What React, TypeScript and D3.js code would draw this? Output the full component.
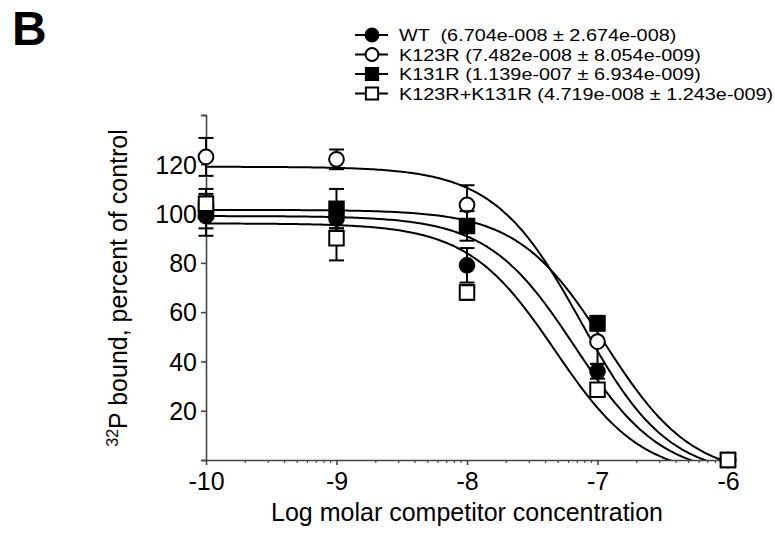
import React, { useEffect, useRef } from "react";
import * as d3 from "d3";

// log molar competitor concentration
const logDoses = [-10, -9, -8, -7, -6];

const seriesNames = ["WT", "K123R", "K131R", "K123R+K131R"];
const legendLabels = [
  "WT  (6.704e-008 ± 2.674e-008)",
  "K123R (7.482e-008 ± 8.054e-009)",
  "K131R (1.139e-007 ± 6.934e-009)",
  "K123R+K131R (4.719e-008 ± 1.243e-009)",
];

// percent of control, mean and error
const wtMean = [99, 98, 79, 36, 0];
const wtErr = [8, 4, 7, 3, 0];
const k123rMean = [123, 122, 103.5, 48, 0];
const k123rErr = [7.7, 4, 8, 9, 0];
const k131rMean = [101, 102, 95, 55.5, 0];
const k131rErr = [7, 8, 6, 3, 0];
const doubleMean = [104, 90, 68, 28.5, 0];
const doubleErr = [6, 9, 3, 2, 0];

// fitted one-site competition curves (IC50 from legend)
const ic50 = [6.704e-8, 7.482e-8, 1.139e-7, 4.719e-8];
const fitTop = [99, 119, 101.5, 96];
const fitBottom = [-7, -7, -7, -7];
const fitHill = [1.3, 1.3, 1.3, 1.3];

const markerShapes = ["circle", "circle", "square", "square"];
const markerFilled = [true, false, true, false];

const xTicks = [-10, -9, -8, -7, -6];
const yTicks = [0, 20, 40, 60, 80, 100, 120, 140];
const yTickLabels = ["", "20", "40", "60", "80", "100", "120", ""];

const FONT = "'Liberation Sans', Arial, Helvetica, sans-serif";
const AXIS_COLOR = "#444";

const App = () => {
  const svgRef = useRef(null);
  const width = 775;
  const height = 535;
  const margin = { top: 115, right: 47, bottom: 75, left: 206 };

  useEffect(() => {
    const svg = d3.select(svgRef.current).attr("width", width).attr("height", height);
    svg.selectAll("*").remove();

    const means = [wtMean, k123rMean, k131rMean, doubleMean];
    const errs = [wtErr, k123rErr, k131rErr, doubleErr];

    const x = d3.scaleLinear().domain([-10, -6]).range([margin.left, width - margin.right]);
    const y = d3.scaleLinear().domain([0, 140]).range([height - margin.bottom, margin.top]);

    svg
      .append("defs")
      .append("clipPath")
      .attr("id", "plotClip")
      .append("rect")
      .attr("x", margin.left)
      .attr("y", margin.top - 10)
      .attr("width", width - margin.left - margin.right + 10)
      .attr("height", y(0) - margin.top + 10);

    // panel letter
    svg
      .append("text")
      .attr("x", 12)
      .attr("y", 45)
      .attr("font-family", FONT)
      .attr("font-weight", "bold")
      .attr("font-size", 48)
      .text("B");

    // fitted curves
    const curveData = seriesNames.map((_, i) => {
      const logIc = Math.log10(ic50[i]);
      return d3.range(-10, -5.999, 0.02).map((lx) => ({
        lx,
        v: fitBottom[i] + (fitTop[i] - fitBottom[i]) / (1 + Math.pow(10, fitHill[i] * (lx - logIc))),
      }));
    });
    const line = d3
      .line<any>()
      .x((d) => x(d.lx))
      .y((d) => y(d.v))
      .curve(d3.curveMonotoneX);
    svg
      .append("g")
      .attr("clip-path", "url(#plotClip)")
      .selectAll("path")
      .data(curveData)
      .enter()
      .append("path")
      .attr("d", line)
      .attr("fill", "none")
      .attr("stroke", "#000")
      .attr("stroke-width", 2);

    // axes
    const yAxis = svg
      .append("g")
      .attr("transform", `translate(${margin.left},0)`)
      .call(d3.axisLeft(y).tickValues(yTicks).tickSize(5).tickFormat((d, i) => yTickLabels[i]));
    yAxis.select(".domain").attr("stroke", AXIS_COLOR).attr("stroke-width", 1.6);
    yAxis.selectAll(".tick line").attr("stroke", AXIS_COLOR).attr("stroke-width", 1.6);
    yAxis
      .selectAll(".tick text")
      .attr("font-family", FONT)
      .attr("font-size", 25)
      .attr("fill", "#000")
      .attr("x", -9)
      .attr("dy", "0.35em");

    const minorTicks: number[] = [];
    for (let dec = -10; dec < -6; dec++) {
      for (let k = 2; k <= 9; k++) minorTicks.push(dec + Math.log10(k));
    }
    const xAxis = svg
      .append("g")
      .attr("transform", `translate(0,${y(0)})`)
      .call(d3.axisBottom(x).tickValues(xTicks).tickSize(5).tickSizeOuter(0).tickFormat(d3.format("d")));
    xAxis.select(".domain").attr("stroke", AXIS_COLOR).attr("stroke-width", 1.6);
    xAxis.selectAll(".tick line").attr("stroke", AXIS_COLOR).attr("stroke-width", 1.6);
    xAxis
      .selectAll(".tick text")
      .attr("font-family", FONT)
      .attr("font-size", 25)
      .attr("fill", "#000")
      .attr("y", 12)
      .attr("dy", "0.71em")
      .text((d: any) => (d < 0 ? "-" + Math.abs(d) : String(d)));
    xAxis
      .selectAll(".minor")
      .data(minorTicks)
      .enter()
      .append("line")
      .attr("class", "minor")
      .attr("x1", (d) => x(d))
      .attr("x2", (d) => x(d))
      .attr("y1", 0)
      .attr("y2", 3)
      .attr("stroke", AXIS_COLOR)
      .attr("stroke-width", 1.2);

    // axis titles
    svg
      .append("text")
      .attr("x", (margin.left + width - margin.right) / 2)
      .attr("y", 521)
      .attr("text-anchor", "middle")
      .attr("font-family", FONT)
      .attr("font-size", 25)
      .text("Log molar competitor concentration");

    const yTitle = svg
      .append("text")
      .attr("transform", `translate(127,288) rotate(-90)`)
      .attr("text-anchor", "middle")
      .attr("font-family", FONT)
      .attr("font-size", 25);
    yTitle.append("tspan").attr("font-size", 16).attr("dy", -9).text("32");
    yTitle.append("tspan").attr("dy", 9).text("P bound, percent of control");

    const symbolPath = (shape: string, size: number) =>
      d3.symbol().type(shape === "circle" ? d3.symbolCircle : d3.symbolSquare).size(size)();

    // error bars and markers
    seriesNames.forEach((name, i) => {
      const g = svg.append("g").attr("class", "series-" + i);
      const pts = logDoses.map((lx, j) => ({ lx, v: means[i][j], e: errs[i][j] }));
      const eb = g
        .selectAll("g.eb")
        .data(pts.filter((p) => p.e > 0))
        .enter()
        .append("g")
        .attr("stroke", "#000")
        .attr("stroke-width", 2);
      eb.append("line")
        .attr("x1", (d) => x(d.lx))
        .attr("x2", (d) => x(d.lx))
        .attr("y1", (d) => y(d.v - d.e))
        .attr("y2", (d) => y(d.v + d.e));
      eb.append("line")
        .attr("x1", (d) => x(d.lx) - 7.5)
        .attr("x2", (d) => x(d.lx) + 7.5)
        .attr("y1", (d) => y(d.v + d.e))
        .attr("y2", (d) => y(d.v + d.e));
      eb.append("line")
        .attr("x1", (d) => x(d.lx) - 7.5)
        .attr("x2", (d) => x(d.lx) + 7.5)
        .attr("y1", (d) => y(d.v - d.e))
        .attr("y2", (d) => y(d.v - d.e));

      g.selectAll("path.marker")
        .data(pts)
        .enter()
        .append("path")
        .attr("class", "marker")
        .attr("transform", (d) => `translate(${x(d.lx)},${y(d.v)})`)
        .attr("d", symbolPath(markerShapes[i], markerShapes[i] === "circle" ? 170 : 210))
        .attr("fill", markerFilled[i] ? "#000" : "#fff")
        .attr("stroke", "#000")
        .attr("stroke-width", 2);
    });

    // legend
    const legend = svg.append("g").attr("transform", "translate(355,35)");
    const item = legend
      .selectAll("g")
      .data(seriesNames)
      .enter()
      .append("g")
      .attr("transform", (d, i) => `translate(0,${i * 19.5})`);
    item
      .append("line")
      .attr("x1", 0)
      .attr("x2", 33)
      .attr("y1", 0)
      .attr("y2", 0)
      .attr("stroke", "#000")
      .attr("stroke-width", 2);
    item
      .append("path")
      .attr("transform", "translate(17,0)")
      .attr("d", (d, i) => symbolPath(markerShapes[i], markerShapes[i] === "circle" ? 130 : 150))
      .attr("fill", (d, i) => (markerFilled[i] ? "#000" : "#fff"))
      .attr("stroke", "#000")
      .attr("stroke-width", 2);
    item
      .append("text")
      .attr("transform", "translate(44,6) scale(1.24,1)")
      .attr("font-family", FONT)
      .attr("font-size", 16)
      .style("white-space", "pre")
      .text((d, i) => legendLabels[i]);
  }, []);

  return (
    <svg
      ref={svgRef}
      style={{ position: "absolute", left: 0, top: 0, background: "#fff" }}
    ></svg>
  );
};

export default App;
